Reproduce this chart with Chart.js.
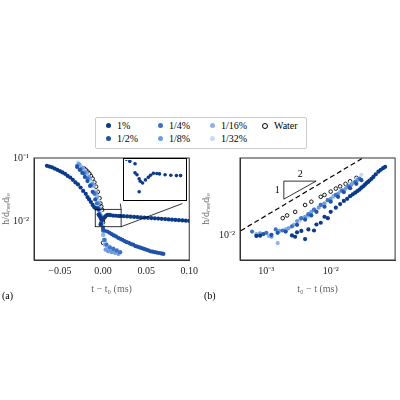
<!DOCTYPE html><html><head><meta charset="utf-8">
<script src="https://cdn.jsdelivr.net/npm/chart.js@4"></script>
<style>
body{margin:0;width:400px;height:400px;background:#fff;position:relative;font-family:"DejaVu Serif",serif;overflow:hidden}
.box{position:absolute}
#legend{position:absolute;left:95px;top:117px;width:210px;height:30px;border:1px solid #ccc;border-radius:2px;font-size:10px;font-family:"Liberation Serif",serif}
.li{position:absolute;display:flex;align-items:center;gap:6px}
.dot{width:5px;height:5px;border-radius:50%}
.lab{position:absolute;font-size:10px;font-family:"Liberation Serif",serif}
</style></head><body>
<div id="legend"></div>
<div class="box" style="left:0;top:150px;width:200px;height:145px"><canvas id="a"></canvas></div>
<div class="box" style="left:200px;top:150px;width:200px;height:145px"><canvas id="b"></canvas></div>
<div class="box" style="left:123px;top:158px;width:64px;height:43px;border:1px solid #000;box-sizing:border-box;background:#fff"><canvas id="c"></canvas></div>
<div class="lab" style="left:2px;top:290px">(a)</div>
<div class="lab" style="left:204px;top:290px">(b)</div>
<script>
const names=["1%","1/2%","1/4%","1/8%","1/16%","1/32%","Water"];
const colors=["#0b3a8a","#1f52a8","#3d72c4","#6e9ce0","#8cb3ec","#c7dbf6","#000"];
// panel (a): [t - t0, h/d]
const a1=[[-0.065,0.075],[-0.062,0.073],[-0.059,0.071],[-0.056,0.068],[-0.053,0.065],[-0.05,0.062],[-0.047,0.059],[-0.044,0.056],[-0.041,0.052],[-0.038,0.049],[-0.035,0.045],[-0.032,0.041],[-0.029,0.038],[-0.026,0.034],[-0.023,0.030],[-0.02,0.027],[-0.018,0.024],[-0.016,0.022],[-0.014,0.020],[-0.012,0.018],[-0.010,0.0165],[-0.008,0.0158],[-0.0051,0.0151],[-0.0051,0.01265],[-0.004,0.0122],[-0.0028,0.0113],[-0.0022,0.01077],[-0.0028,0.0088],[-0.0009,0.0104],[0.0007,0.01105],[0.0023,0.0116],[0.0035,0.01208],[0.0051,0.01253],[0.007,0.0125],[0.0085,0.0124],[0.0116,0.0122],[0.0148,0.0121],[0.0179,0.0120],[0.0202,0.0120],[0.024,0.0119],[0.028,0.0118],[0.032,0.0117],[0.036,0.0116],[0.04,0.0115],[0.044,0.0114],[0.048,0.0113],[0.052,0.0112],[0.056,0.0111],[0.06,0.0110],[0.064,0.0109],[0.068,0.0108],[0.072,0.0107],[0.076,0.0106],[0.08,0.0105],[0.084,0.0104],[0.088,0.0103],[0.092,0.0102],[0.096,0.0101],[0.1,0.0100]];
const a2=[[-0.03,0.072],[-0.027,0.065],[-0.024,0.058],[-0.021,0.05],[-0.018,0.043],[-0.015,0.036],[-0.012,0.029],[-0.009,0.022],[-0.006,0.016],[-0.004,0.012],[-0.002,0.009],[0.0,0.0075],[0.002,0.007],[0.005,0.0068],[0.0075,0.0065],[0.01,0.0062],[0.0125,0.0059],[0.015,0.0057],[0.0175,0.0054],[0.02,0.0052],[0.0225,0.005],[0.025,0.0048],[0.0275,0.0046],[0.03,0.0045],[0.0325,0.0043],[0.035,0.0042],[0.0375,0.004],[0.04,0.0039],[0.0425,0.0038],[0.045,0.0037],[0.0475,0.0036],[0.05,0.0035],[0.0525,0.0034],[0.055,0.0033],[0.0575,0.00325],[0.06,0.0032],[0.0625,0.00315],[0.065,0.0031],[0.0675,0.00305],[0.07,0.003]];
const a3=[[-0.03,0.075],[-0.026,0.066],[-0.022,0.057],[-0.018,0.047],[-0.014,0.037],[-0.01,0.027],[-0.007,0.019],[-0.004,0.013],[-0.002,0.0095],[0,0.007],[0.002,0.005],[0.004,0.0042],[0.008,0.0038],[0.012,0.0036],[0.016,0.0034],[0.02,0.0032]];
const a4=[[-0.028,0.08],[-0.024,0.07],[-0.02,0.06],[-0.016,0.05],[-0.012,0.039],[-0.008,0.028],[-0.005,0.019],[-0.002,0.012],[0,0.008],[0.001,0.005],[0.003,0.0035],[0.006,0.0033],[0.01,0.0032],[0.014,0.0031],[0.018,0.003]];
const a5=[[-0.027,0.078],[-0.023,0.068],[-0.019,0.058],[-0.015,0.047],[-0.011,0.036],[-0.007,0.025],[-0.004,0.016],[-0.001,0.01],[0,0.006],[0.002,0.0042],[0.005,0.0037],[0.009,0.0035],[0.013,0.0033],[0.017,0.0032]];
const a6=[[-0.029,0.085],[-0.025,0.074],[-0.021,0.063],[-0.017,0.052],[-0.013,0.041],[-0.009,0.03],[-0.006,0.021],[-0.003,0.014],[-0.001,0.011],[0,0.0085],[0.001,0.006],[0.003,0.0045],[0.007,0.004],[0.012,0.0037]];
const aW=[[-0.022,0.068],[-0.02,0.065],[-0.018,0.061],[-0.016,0.057],[-0.014,0.052],[-0.012,0.047],[-0.01,0.041],[-0.008,0.035],[-0.006,0.029],[-0.004,0.023],[-0.003,0.019],[-0.002,0.017],[-0.001,0.015],[0,0.0105],[0,0.0095],[0,0.0045]];
// panel (b): [t0 - t, h/d]
const b1=[[0.0007,0.0098],[0.0008,0.0099],[0.0025,0.010],[0.0028,0.0095],[0.003,0.0112],[0.0035,0.0118],[0.004,0.0087],[0.0045,0.0125],[0.0055,0.012],[0.006,0.015],[0.007,0.016],[0.008,0.02],[0.009,0.019],[0.01,0.024],[0.012,0.028],[0.014,0.032],[0.016,0.036],[0.018,0.039],[0.02,0.043],[0.022,0.046],[0.024,0.049],[0.026,0.052],[0.028,0.055],[0.03,0.059],[0.032,0.062],[0.034,0.066],[0.036,0.07],[0.038,0.073],[0.04,0.077],[0.043,0.082],[0.046,0.088],[0.05,0.097],[0.055,0.107],[0.06,0.115],[0.065,0.122],[0.07,0.128]];
const b2=[[0.0009,0.0105],[0.0012,0.0102],[0.0015,0.011],[0.002,0.0115],[0.003,0.0148],[0.004,0.018],[0.005,0.021],[0.006,0.024],[0.008,0.029],[0.01,0.035],[0.013,0.042],[0.016,0.05],[0.02,0.058],[0.025,0.068],[0.03,0.078]];
const b3=[[0.0006,0.0115],[0.001,0.011],[0.0014,0.0125],[0.0018,0.012],[0.0025,0.014],[0.0035,0.019],[0.0045,0.022],[0.0055,0.026],[0.007,0.031],[0.009,0.037],[0.012,0.045],[0.015,0.053],[0.019,0.062],[0.024,0.073],[0.028,0.083]];
const b4=[[0.0008,0.0108],[0.0012,0.0095],[0.0016,0.0118],[0.0022,0.013],[0.003,0.017],[0.004,0.02],[0.005,0.024],[0.0065,0.028],[0.008,0.033],[0.01,0.039],[0.013,0.047],[0.017,0.057],[0.021,0.066],[0.026,0.078]];
const b5=[[0.0007,0.0105],[0.0011,0.0098],[0.0015,0.0075],[0.002,0.0125],[0.0027,0.015],[0.0034,0.0185],[0.0044,0.021],[0.0056,0.026],[0.007,0.031],[0.009,0.037],[0.011,0.043],[0.014,0.051],[0.018,0.061],[0.022,0.07],[0.027,0.08]];
const b6=[[0.0025,0.014],[0.0033,0.017],[0.0045,0.02],[0.006,0.024],[0.008,0.03],[0.011,0.041],[0.015,0.054],[0.02,0.068],[0.025,0.082],[0.03,0.095]];
const bW=[[0.0018,0.019],[0.0021,0.021],[0.0028,0.024],[0.004,0.031],[0.005,0.035],[0.007,0.042],[0.008,0.045],[0.01,0.051],[0.012,0.057],[0.014,0.062],[0.017,0.068],[0.02,0.075],[0.025,0.085]];
const slopeLine=[[0.0004,0.0119],[0.0316,0.178]];
const triangle=[[0.00187,0.0385],[0.00187,0.0753],[0.00593,0.0753],[0.00187,0.0385]];
const zoomRect={x0:-0.009,x1:0.021,y0:0.0081,y1:0.0153};
const xTicksA=[-0.05,0,0.05,0.1], yTicks=[0.01,0.1], xTicksB=[0.001,0.01];

const F={family:"Liberation Serif",size:10};
const pt=a=>a.map(p=>({x:p[0],y:p[1]}));
function ds(arrs,r){return arrs.map((d,i)=>({label:names[i],data:pt(d),showLine:false,pointRadius:i==6?1.8:r,
 pointBackgroundColor:i==6?'rgba(0,0,0,0)':colors[i],pointBorderColor:colors[i],pointBorderWidth:i==6?0.9:0}))}
const sup=v=>v==0.1?'10⁻¹':v==0.01?'10⁻²':v==0.001?'10⁻³':'';
const L=document.getElementById('legend');
const pos=[[0,0],[1,0],[0,1],[1,1],[0,2],[1,2],[0,3]];
names.forEach((n,i)=>{const d=document.createElement('div');d.className='li';
 d.style.left=(10+pos[i][1]*52)+'px';d.style.top=(2+pos[i][0]*13)+'px';
 d.innerHTML=`<span class="dot" style="${i==6?'border:1px solid #000;width:4px;height:4px;':'background:'+colors[i]}"></span><span>${n}</span>`;L.appendChild(d)});
function fitY(w){return ax=>{ax.width=w}}
function fitX(h){return ax=>{ax.height=h}}
const frame={id:'frame',afterDraw(ch){const a=ch.chartArea,c=ch.ctx;c.save();c.strokeStyle='#333';c.lineWidth=1;c.strokeRect(a.left,a.top,a.right-a.left,a.bottom-a.top);c.restore();}};
const deco={id:'deco',afterDatasetsDraw(ch){const c=ch.ctx,x=ch.scales.x,y=ch.scales.y;c.save();c.strokeStyle='#000';c.lineWidth=0.8;
 const X0=x.getPixelForValue(zoomRect.x0),X1=x.getPixelForValue(zoomRect.x1),Y0=y.getPixelForValue(zoomRect.y0),Y1=y.getPixelForValue(zoomRect.y1);
 c.strokeRect(X0,Y1,X1-X0,Y0-Y1);c.beginPath();c.moveTo(X1,Y1);c.lineTo(x.getPixelForValue(0.0201),y.getPixelForValue(0.0189));
 c.moveTo(X1,Y0);c.lineTo(x.getPixelForValue(0.092),y.getPixelForValue(0.0189));c.stroke();c.restore();}};
const axStyle=(o)=>Object.assign({grid:{display:false,drawTicks:true,tickLength:3},border:{color:'#333'}},o);
new Chart('a',{type:'scatter',data:{datasets:ds([a1,a2,a3,a4,a5,a6,aW],2.1)},plugins:[deco,frame],
 options:{responsive:true,maintainAspectRatio:false,animation:false,layout:{padding:{top:3,right:6}},plugins:{legend:{display:false},tooltip:{enabled:false}},
 scales:{x:axStyle({min:-0.08,max:0.1,afterFit:fitX(35),afterBuildTicks:a=>{a.ticks=xTicksA.map(v=>({value:v}))},
   ticks:{font:F,color:'#222',maxRotation:0,autoSkip:false,padding:2,callback:v=>(v<0?'−':'')+Math.abs(v).toFixed(2)},title:{display:true,text:'t − t₀ (ms)',font:F,padding:0}}),
  y:axStyle({type:'logarithmic',min:0.0024,max:0.1,afterFit:fitY(34),afterBuildTicks:a=>{a.ticks=yTicks.map(v=>({value:v}))},
   ticks:{font:F,color:'#222',autoSkip:false,padding:2,callback:sup},title:{display:true,text:'h/dₙₑₑdₗₑ',font:F,padding:0}})}}});
const ds2=ds([b1,b2,b3,b4,b5,b6,bW],2.1);
ds2.push({label:'s',data:pt(slopeLine),showLine:true,pointRadius:0,borderColor:'#000',borderWidth:1.2,borderDash:[5,3]});
ds2.push({label:'t',data:pt(triangle),showLine:true,pointRadius:0,borderColor:'#000',borderWidth:0.8});
const lbl={id:'lbl',afterDatasetsDraw(ch){const c=ch.ctx,x=ch.scales.x,y=ch.scales.y;c.save();c.font='10px Liberation Serif';c.fillStyle='#000';
 c.fillText('1',x.getPixelForValue(0.00187)-9,y.getPixelForValue(0.054)+3);c.fillText('2',x.getPixelForValue(0.0033)-2,y.getPixelForValue(0.0753)-4);c.restore();}};
new Chart('b',{type:'scatter',data:{datasets:ds2},plugins:[lbl,frame],
 options:{responsive:true,maintainAspectRatio:false,animation:false,layout:{padding:{top:3,right:1}},plugins:{legend:{display:false},tooltip:{enabled:false}},
 scales:{x:axStyle({type:'logarithmic',min:0.00039,max:0.1,afterFit:fitX(35),afterBuildTicks:a=>{a.ticks=xTicksB.map(v=>({value:v}))},
   ticks:{font:F,color:'#222',maxRotation:0,autoSkip:false,padding:2,callback:sup},title:{display:true,text:'t₀ − t (ms)',font:F,padding:0}}),
  y:axStyle({type:'logarithmic',min:0.004,max:0.178,afterFit:fitY(40),afterBuildTicks:a=>{a.ticks=[{value:0.01}]},
   ticks:{font:F,color:'#222',autoSkip:false,padding:2,callback:sup},title:{display:true,text:'h/dₙₑₑdₗₑ',font:F,padding:0}})}}});
new Chart('c',{type:'scatter',data:{datasets:[{data:pt(a1),showLine:false,pointRadius:1.8,pointBackgroundColor:colors[0],pointBorderWidth:0,clip:3}]},
 options:{responsive:true,maintainAspectRatio:false,animation:false,layout:{padding:0},plugins:{legend:{display:false},tooltip:{enabled:false}},
 scales:{x:{display:false,min:zoomRect.x0,max:zoomRect.x1},y:{display:false,type:'logarithmic',min:zoomRect.y0,max:zoomRect.y1}}}});
</script></body></html>
